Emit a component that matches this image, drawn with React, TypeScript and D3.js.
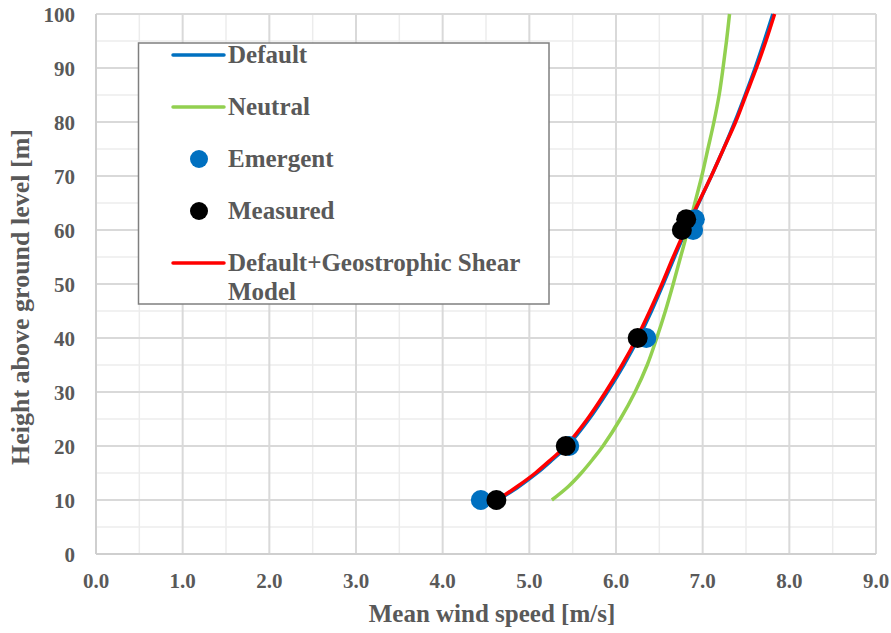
import React from "react";
import * as d3 from "d3";

// profile heights (m) and mean wind speeds (m/s)
const profileHeights = [10, 12.5, 15, 17.5, 20, 25, 30, 35, 40, 45, 50, 55, 60, 65, 70, 75, 80, 85, 90, 95, 100];
const defaultSpeed = [4.64, 4.88, 5.09, 5.27, 5.44, 5.69, 5.90, 6.09, 6.26, 6.41, 6.545, 6.675, 6.81, 6.955, 7.10, 7.24, 7.37, 7.49, 7.605, 7.71, 7.81];
const geoShearSpeed = [4.63, 4.86, 5.07, 5.25, 5.42, 5.67, 5.88, 6.07, 6.24, 6.39, 6.53, 6.66, 6.80, 6.95, 7.10, 7.24, 7.38, 7.50, 7.62, 7.73, 7.83];
const neutralSpeed = [5.26, 5.45, 5.60, 5.73, 5.85, 6.05, 6.22, 6.36, 6.47, 6.57, 6.66, 6.745, 6.83, 6.91, 6.99, 7.06, 7.13, 7.19, 7.235, 7.275, 7.31];

const emergentHeights = [10, 20, 40, 60, 62];
const emergentSpeed = [4.44, 5.46, 6.35, 6.89, 6.91];
const measuredHeights = [10, 20, 40, 60, 62];
const measuredSpeed = [4.62, 5.42, 6.25, 6.76, 6.81];

const xTicks = [0, 1, 2, 3, 4, 5, 6, 7, 8, 9];
const yTicks = [0, 10, 20, 30, 40, 50, 60, 70, 80, 90, 100];

const legendItems = [
  { label: ["Default"], color: "#0070C0", kind: "line" },
  { label: ["Neutral"], color: "#92D050", kind: "line" },
  { label: ["Emergent"], color: "#0070C0", kind: "dot" },
  { label: ["Measured"], color: "#000000", kind: "dot" },
  { label: ["Default+Geostrophic Shear", "Model"], color: "#FF0000", kind: "line" },
];

const W = 891;
const H = 633;
const margin = { top: 14, right: 15, bottom: 79, left: 96 };
const font = "'Liberation Serif', 'Times New Roman', serif";
const textColor = "#595959";

export default function App() {
  const x = d3.scaleLinear().domain([0, 9]).range([margin.left, W - margin.right]);
  const y = d3.scaleLinear().domain([0, 100]).range([H - margin.bottom, margin.top]);

  const line = d3
    .line<[number, number]>()
    .x((d) => x(d[0]))
    .y((d) => y(d[1]))
    .curve(d3.curveCatmullRom.alpha(0.5));

  const pts = (speeds: number[], hs: number[]) => speeds.map((s, i) => [s, hs[i]] as [number, number]);

  const minorX = d3.range(0.5, 9, 1);
  const minorY = d3.range(5, 100, 10);

  return (
    <svg width={W} height={H} style={{ position: "absolute", left: 0, top: 0, background: "#fff" }} fontFamily={font}>
      {/* minor grid */}
      {minorX.map((v) => (
        <line key={"mx" + v} x1={x(v)} x2={x(v)} y1={y(0)} y2={y(100)} stroke="#ececec" strokeWidth={1.5} />
      ))}
      {minorY.map((v) => (
        <line key={"my" + v} x1={x(0)} x2={x(9)} y1={y(v)} y2={y(v)} stroke="#ececec" strokeWidth={1.5} />
      ))}
      {/* major grid */}
      {xTicks.map((v) => (
        <line key={"gx" + v} x1={x(v)} x2={x(v)} y1={y(0)} y2={y(100)} stroke="#d9d9d9" strokeWidth={2} />
      ))}
      {yTicks.map((v) => (
        <line key={"gy" + v} x1={x(0)} x2={x(9)} y1={y(v)} y2={y(v)} stroke="#d9d9d9" strokeWidth={2} />
      ))}
      <line x1={x(0)} x2={x(0)} y1={y(0)} y2={y(100)} stroke="#cfcfcf" strokeWidth={2} />
      <line x1={x(0)} x2={x(9)} y1={y(0)} y2={y(0)} stroke="#cfcfcf" strokeWidth={2} />

      {/* tick labels */}
      {xTicks.map((v) => (
        <text key={"tx" + v} x={x(v)} y={y(0) + 34} textAnchor="middle" fontSize={21} fontWeight="bold" fill={textColor}>
          {d3.format(".1f")(v)}
        </text>
      ))}
      {yTicks.map((v) => (
        <text key={"ty" + v} x={75} y={y(v) + 8} textAnchor="end" fontSize={21} fontWeight="bold" fill={textColor}>
          {v}
        </text>
      ))}

      <text x={492} y={622} textAnchor="middle" fontSize={25} fontWeight="bold" fill={textColor}>
        Mean wind speed [m/s]
      </text>
      <text
        transform={`translate(29, 297) rotate(-90)`}
        textAnchor="middle"
        fontSize={26}
        fontWeight="bold"
        fill={textColor}
      >
        Height above ground level [m]
      </text>

      {/* legend */}
      <rect x={138.5} y={43} width={410.5} height={261} fill="#fff" stroke="#7f7f7f" strokeWidth={1.5} />
      {legendItems.map((item, i) => {
        const base = 63 + i * 52;
        const cy = base - 8;
        return (
          <g key={"lg" + i}>
            {item.kind === "line" ? (
              <line x1={173} x2={224} y1={cy} y2={cy} stroke={item.color} strokeWidth={3.5} strokeLinecap="round" />
            ) : (
              <circle cx={199} cy={cy} r={9} fill={item.color} />
            )}
            {item.label.map((t, j) => (
              <text key={j} x={228} y={base + j * 29} fontSize={25} fontWeight="bold" fill={textColor}>
                {t}
              </text>
            ))}
          </g>
        );
      })}

      {/* series */}
      <path d={line(pts(defaultSpeed, profileHeights)) || ""} fill="none" stroke="#0070C0" strokeWidth={3.5} />
      <path d={line(pts(neutralSpeed, profileHeights)) || ""} fill="none" stroke="#92D050" strokeWidth={3.5} />
      <path d={line(pts(geoShearSpeed, profileHeights)) || ""} fill="none" stroke="#FF0000" strokeWidth={3.5} />
      {emergentSpeed.map((s, i) => (
        <circle key={"em" + i} cx={x(s)} cy={y(emergentHeights[i])} r={10} fill="#0070C0" />
      ))}
      {measuredSpeed.map((s, i) => (
        <circle key={"ms" + i} cx={x(s)} cy={y(measuredHeights[i])} r={10} fill="#000000" />
      ))}
    </svg>
  );
}
